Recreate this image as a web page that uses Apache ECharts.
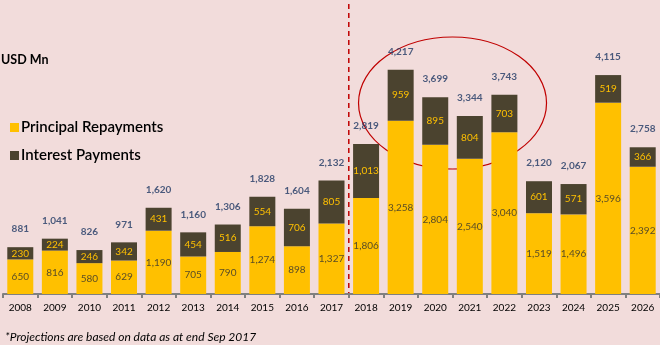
<!DOCTYPE html>
<html>
<head>
<meta charset="utf-8">
<script src="https://cdn.jsdelivr.net/npm/echarts@6/dist/echarts.min.js"></script>
<style>
html,body{margin:0;padding:0;background:#F2DCDB;}
#c{width:660px;height:345px;}
</style>
</head>
<body>
<div id="c"></div>
<script>
var years = ['2008','2009','2010','2011','2012','2013','2014','2015','2016','2017','2018','2019','2020','2021','2022','2023','2024','2025','2026'];
var principal = [650,816,580,629,1190,705,790,1274,898,1327,1806,3258,2804,2540,3040,1519,1496,3596,2392];
var interest = [230,224,246,342,431,454,516,554,706,805,1013,959,895,804,703,601,571,519,366];
var totals = [881,1041,826,971,1620,1160,1306,1828,1604,2132,2819,4217,3699,3344,3743,2120,2067,4115,2758];

var FONT = 'Lato, "Open Sans", sans-serif';
var chart = echarts.init(document.getElementById('c'));
function fmt(v){ return Number(v).toLocaleString('en-US'); }

chart.setOption({
  backgroundColor: '#F2DCDB',
  animation: false,
  textStyle: { fontFamily: FONT },
  grid: { left: 3, right: 0, top: 28, bottom: 51 },
  legend: {
    orient: 'vertical', left: 5, top: 115, itemWidth: 9, itemHeight: 9, itemGap: 13,
    icon: 'rect',
    textStyle: { fontFamily: FONT, fontSize: 15, color: '#000', fontWeight: 600, padding: [0,0,0,-3] },
    data: ['Principal Repayments', 'Interest Payments']
  },
  title: [
    { text: 'USD Mn', left: -4, top: 48, textStyle: { fontFamily: FONT, fontSize: 12.5, fontWeight: 'bold', color: '#000' } },
    { text: '*Projections are based on data as at end Sep 2017', left: 0, top: 326, textStyle: { fontFamily: FONT, fontSize: 12, fontStyle: 'italic', fontWeight: 'normal', color: '#000' } }
  ],
  xAxis: {
    type: 'category', data: years,
    axisLine: { lineStyle: { color: '#808080', width: 2 } },
    axisTick: { show: true, length: 4, lineStyle: { color: '#808080', width: 2 } },
    axisLabel: { color: '#000', fontSize: 10, margin: 9, fontFamily: FONT }
  },
  yAxis: { type: 'value', min: 0, max: 5000, show: false, splitLine: { show: false } },
  series: [
    {
      name: 'Principal Repayments', type: 'bar', stack: 't', data: principal, barWidth: 26,
      itemStyle: { color: '#FFC000' },
      label: { show: true, position: 'inside', color: '#5a4d26', fontSize: 10, fontFamily: FONT, formatter: function(p){ return fmt(p.value); } }
    },
    {
      name: 'Interest Payments', type: 'bar', stack: 't', data: interest, barWidth: 26,
      itemStyle: { color: '#4B432F' },
      label: { show: true, position: 'inside', color: '#FFC000', fontSize: 10, fontFamily: FONT, formatter: function(p){ return fmt(p.value); } }
    },
    {
      name: 'Total', type: 'scatter', data: totals, symbolSize: 0, silent: true,
      label: { show: true, position: 'top', distance: 13, color: '#1F3864', fontSize: 10, fontWeight: 'bold', fontFamily: FONT, formatter: function(p){ return fmt(p.value); } }
    }
  ]
});

// Annotations: dashed separator between actuals and projections, and ellipse highlight
var p17 = chart.convertToPixel({xAxisIndex:0, yAxisIndex:0}, [9, 0]);
var p18 = chart.convertToPixel({xAxisIndex:0, yAxisIndex:0}, [10, 0]);
var p20 = chart.convertToPixel({xAxisIndex:0, yAxisIndex:0}, [12, 3590]);
var p21 = chart.convertToPixel({xAxisIndex:0, yAxisIndex:0}, [13, 3590]);
var sepX = (p17[0] + p18[0]) / 2;
chart.setOption({
  graphic: [
    { type: 'line', silent: true, shape: { x1: sepX, y1: 4, x2: sepX, y2: p17[1] },
      style: { stroke: '#C00000', lineWidth: 1.5, lineDash: [5, 4] } },
    { type: 'ellipse', silent: true, shape: { cx: (p20[0] + p21[0]) / 2, cy: p20[1], rx: 94, ry: 66 },
      style: { fill: 'none', stroke: '#C00000', lineWidth: 1.2 } }
  ]
});
</script>
</body>
</html>
